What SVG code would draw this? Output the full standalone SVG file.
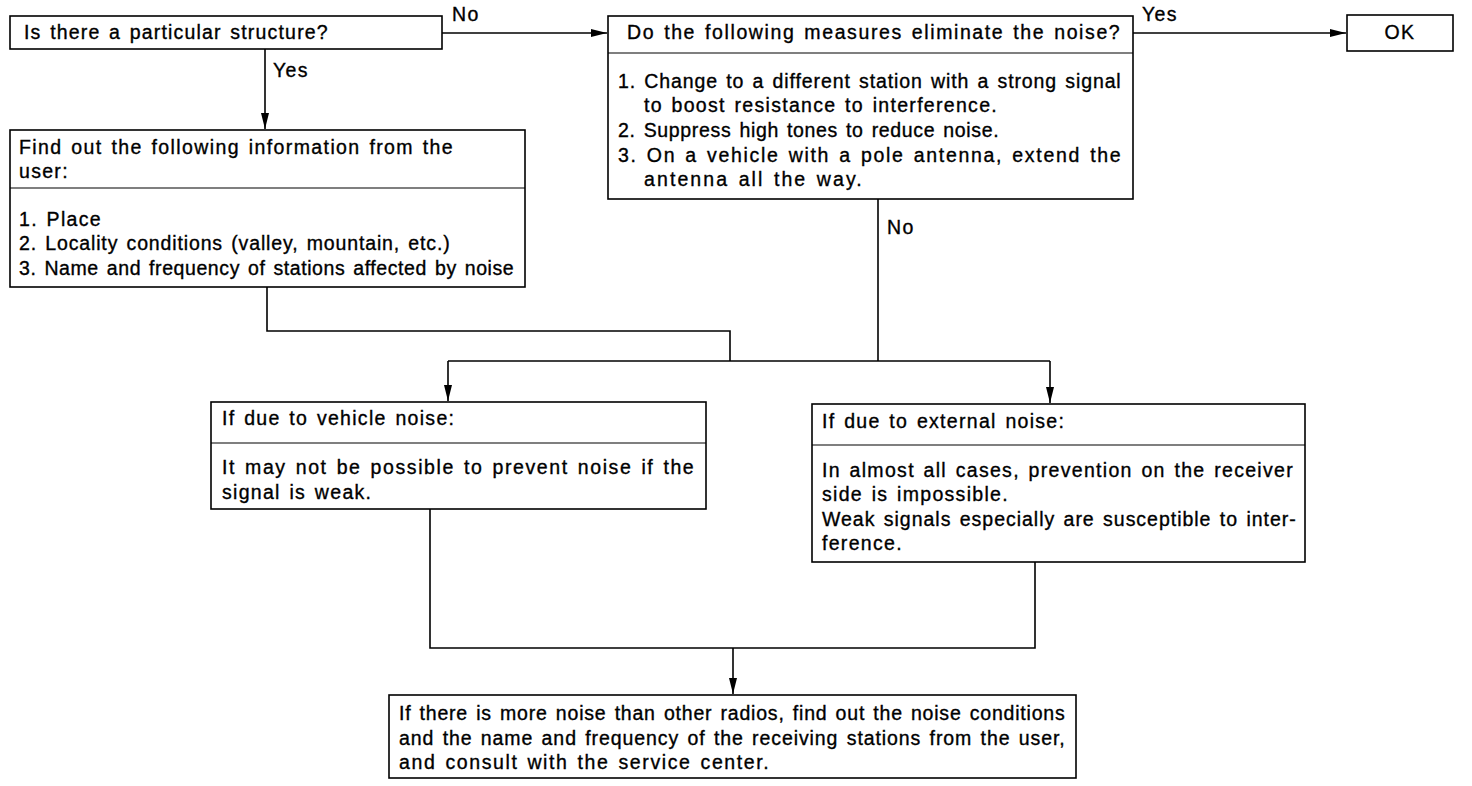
<svg xmlns="http://www.w3.org/2000/svg" width="1472" height="786" viewBox="0 0 1472 786">
<style>
.box{fill:#fff;stroke:#000;stroke-width:1.6}
.div{stroke:#000;stroke-width:1.2}
.t{font-family:"Liberation Sans",Arial,sans-serif;font-size:19.5px;fill:#000;stroke:#000;stroke-width:0.35;letter-spacing:1.3px;word-spacing:2px}
.c{fill:none;stroke:#000;stroke-width:1.6}
</style>
<defs>
<marker id="ah" viewBox="0 0 16 10" refX="16" refY="5" markerWidth="16" markerHeight="10" markerUnits="userSpaceOnUse" orient="auto">
<path d="M0,1 L16,5 L0,9 Z" fill="#000"/>
</marker>
</defs>
<rect width="1472" height="786" fill="#fff"/>
<g id="connectors">
<path class="c" d="M442,33 H607" marker-end="url(#ah)"/>
<path class="c" d="M1133,33 H1346" marker-end="url(#ah)"/>
<path class="c" d="M265,49 V129" marker-end="url(#ah)"/>
<path class="c" d="M267,287 V331 H730 V361"/>
<path class="c" d="M878,199 V361"/>
<path class="c" d="M448,361 H1050"/>
<path class="c" d="M448,361 V401" marker-end="url(#ah)"/>
<path class="c" d="M1050,361 V403" marker-end="url(#ah)"/>
<path class="c" d="M430,509 V648 H1035 V562"/>
<path class="c" d="M733,648 V694" marker-end="url(#ah)"/>
<text class="t" x="452" y="21">No</text>
<text class="t" x="1142" y="21">Yes</text>
<text class="t" x="273" y="77">Yes</text>
<text class="t" x="887" y="234">No</text>
</g>
<g id="n1">
<rect class="box" x="10" y="16" width="432" height="33"/>
<text class="t" x="24" y="39" textLength="305" lengthAdjust="spacing">Is there a particular structure?</text>
</g>
<g id="n2">
<rect class="box" x="608" y="16" width="525" height="183"/>
<line class="div" x1="608" y1="53" x2="1133" y2="53"/>
<text class="t" x="627" y="39" textLength="494" lengthAdjust="spacing">Do the following measures eliminate the noise?</text>
<text class="t" x="618" y="88" textLength="504" lengthAdjust="spacing">1. Change to a different station with a strong signal</text>
<text class="t" x="644" y="112" textLength="354" lengthAdjust="spacing">to boost resistance to interference.</text>
<text class="t" x="618" y="137" textLength="382" lengthAdjust="spacing">2. Suppress high tones to reduce noise.</text>
<text class="t" x="618" y="162" textLength="504" lengthAdjust="spacing">3. On a vehicle with a pole antenna, extend the</text>
<text class="t" x="644" y="186" textLength="219" lengthAdjust="spacing">antenna all the way.</text>
</g>
<g id="n3">
<rect class="box" x="1347" y="15" width="106" height="36"/>
<text class="t" x="1400" y="39" text-anchor="middle">OK</text>
</g>
<g id="n4">
<rect class="box" x="10" y="130" width="515" height="157"/>
<line class="div" x1="10" y1="188" x2="525" y2="188"/>
<text class="t" x="19" y="154" textLength="435" lengthAdjust="spacing">Find out the following information from the</text>
<text class="t" x="19" y="178">user:</text>
<text class="t" x="19" y="226">1. Place</text>
<text class="t" x="19" y="250" textLength="432" lengthAdjust="spacing">2. Locality conditions (valley, mountain, etc.)</text>
<text class="t" x="19" y="275" textLength="496" lengthAdjust="spacing">3. Name and frequency of stations affected by noise</text>
</g>
<g id="n5">
<rect class="box" x="211" y="402" width="495" height="107"/>
<line class="div" x1="211" y1="443" x2="706" y2="443"/>
<text class="t" x="222" y="425">If due to vehicle noise:</text>
<text class="t" x="222" y="474" textLength="473" lengthAdjust="spacing">It may not be possible to prevent noise if the</text>
<text class="t" x="222" y="499">signal is weak.</text>
</g>
<g id="n6">
<rect class="box" x="812" y="404" width="493" height="158"/>
<line class="div" x1="812" y1="445" x2="1305" y2="445"/>
<text class="t" x="822" y="428">If due to external noise:</text>
<text class="t" x="822" y="477" textLength="472" lengthAdjust="spacing">In almost all cases, prevention on the receiver</text>
<text class="t" x="822" y="501">side is impossible.</text>
<text class="t" x="822" y="526" textLength="475" lengthAdjust="spacing">Weak signals especially are susceptible to inter-</text>
<text class="t" x="822" y="550">ference.</text>
</g>
<g id="n7">
<rect class="box" x="389" y="695" width="687" height="83"/>
<text class="t" x="399" y="720" textLength="667" lengthAdjust="spacing">If there is more noise than other radios, find out the noise conditions</text>
<text class="t" x="399" y="745" textLength="667" lengthAdjust="spacing">and the name and frequency of the receiving stations from the user,</text>
<text class="t" x="399" y="769" textLength="371" lengthAdjust="spacing">and consult with the service center.</text>
</g>
</svg>
